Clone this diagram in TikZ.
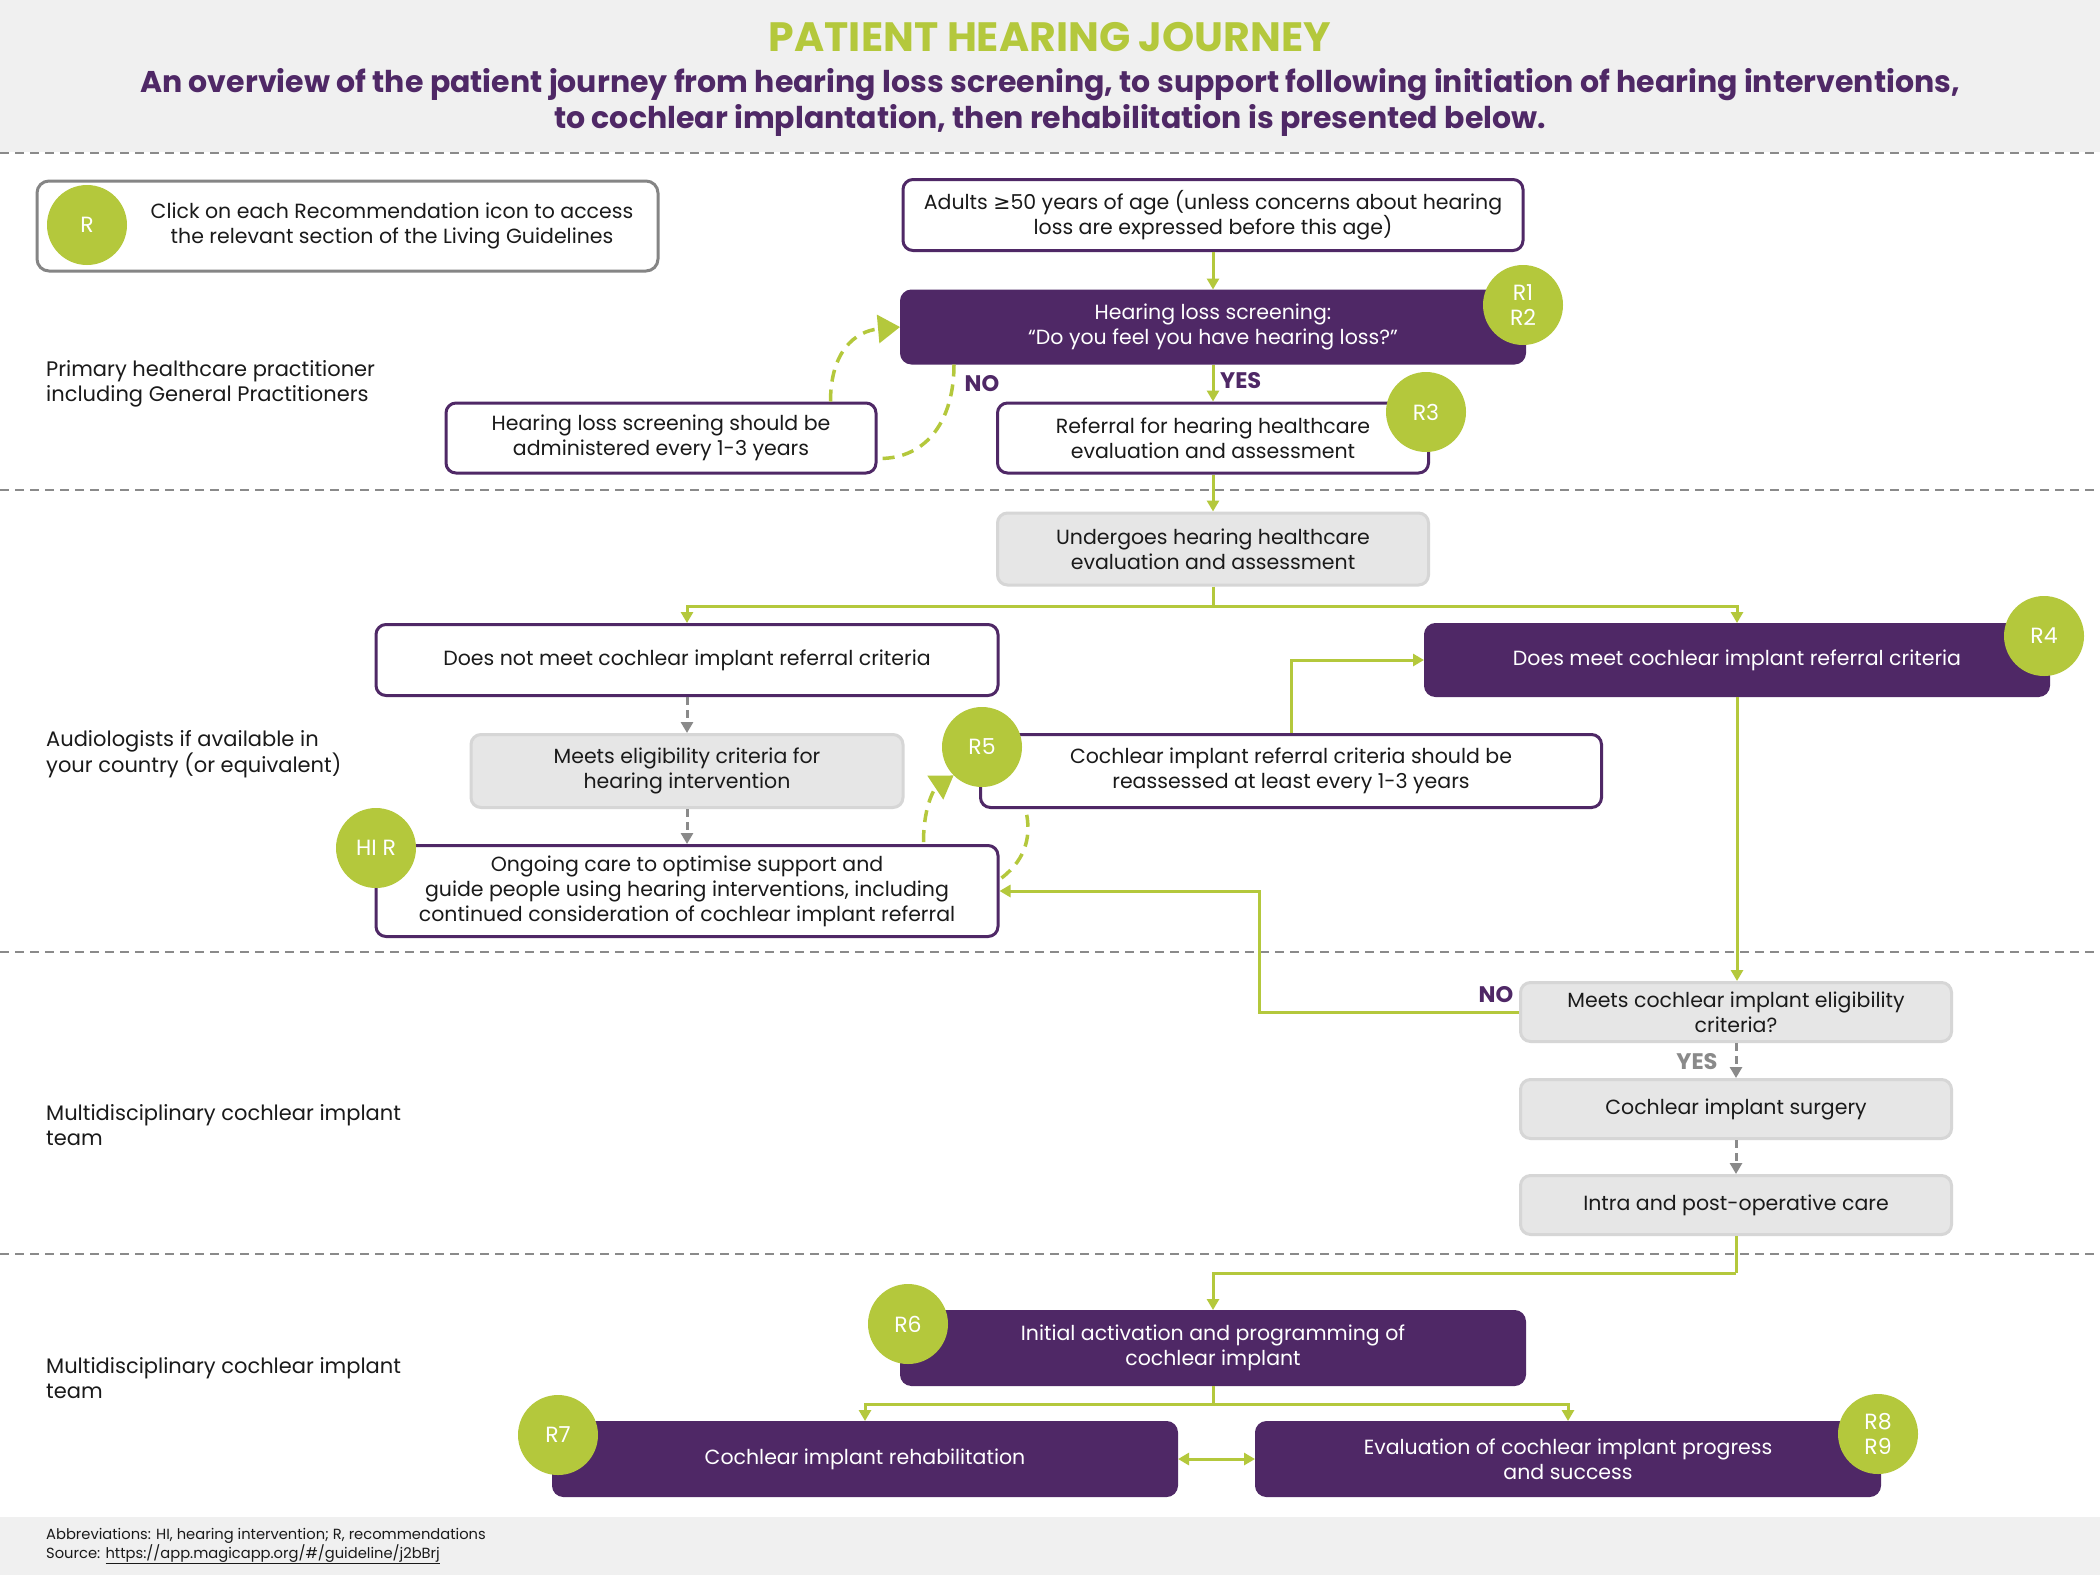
\documentclass[tikz,border=0pt]{standalone}
\usepackage{fontspec}
\setmainfont{Poppins}
\newfontfamily\symfont{DejaVu Sans}
\usetikzlibrary{arrows.meta,calc}
\definecolor{hpurple}{HTML}{4F2866}
\definecolor{hgreen}{HTML}{B4C83C}
\definecolor{hgrayfill}{HTML}{E6E6E6}
\definecolor{hgrayline}{HTML}{D6D6D6}
\definecolor{hband}{HTML}{F0F0F0}
\definecolor{hdash}{HTML}{8A8A8A}
\definecolor{hlegend}{HTML}{858585}
\definecolor{htext}{HTML}{1A1A1A}
\begin{document}
\begin{tikzpicture}[x=1pt,y=-1pt,
  base/.style={rounded corners=10pt, line width=3pt, align=center, inner sep=0pt, font=\fontsize{20.5}{25}\selectfont},
  wbox/.style={base, draw=hpurple, fill=white, text=htext},
  pbox/.style={base, draw=hpurple, fill=hpurple, text=white},
  gbox/.style={base, draw=hgrayline, fill=hgrayfill, text=htext},
  rcirc/.style={circle, fill=hgreen, minimum size=80pt, inner sep=0pt, text=white, align=center, font=\fontsize{22}{25.5}\selectfont},
  lane/.style={anchor=west, align=left, inner sep=0pt, text=htext, font=\fontsize{21}{25}\selectfont},
  gline/.style={draw=hgreen, line width=3pt},
  garrow/.style={gline, -{Triangle[length=11pt,width=12pt]}},
  gdarrow/.style={gline, {Triangle[length=11pt,width=12pt]}-{Triangle[length=11pt,width=12pt]}},
  grayarrow/.style={draw=hdash, line width=3pt, dash pattern=on 8pt off 5pt, -{Triangle[length=11pt,width=12pt]}},
  loopline/.style={draw=hgreen, line width=3.5pt, dash pattern=on 12pt off 8pt},
  looparrow/.style={loopline, -{Triangle[length=22pt,width=28pt]}},
  sep/.style={draw=hdash, line width=2pt, dash pattern=on 9pt off 6pt},
  yn/.style={inner sep=0pt, font=\bfseries\fontsize{22.5}{26}\selectfont}
]
\useasboundingbox (0,0) rectangle (2100,1575);
\fill[white] (0,0) rectangle (2100,1575);
% header and footer bands
\fill[hband] (0,0) rectangle (2100,152);
\fill[hband] (0,1517) rectangle (2100,1575);
\node[inner sep=0pt, text=hgreen, font=\bfseries\fontsize{41}{44}\selectfont] (title) at (1050,37) {PATIENT HEARING JOURNEY};
\node[inner sep=0pt, align=center, text=hpurple, font=\bfseries\fontsize{30}{36}\selectfont] (subtitle) at (1050,102)
  {An overview of the patient journey from hearing loss screening, to support following initiation of hearing interventions,\\
   to cochlear implantation, then rehabilitation is presented below.};
% separators
\coordinate (s1l) at (0,153); \coordinate (s1r) at (2100,153);
\coordinate (s2l) at (0,490); \coordinate (s2r) at (2100,490);
\coordinate (s3l) at (0,952); \coordinate (s3r) at (2100,952);
\coordinate (s4l) at (0,1254); \coordinate (s4r) at (2100,1254);
\draw[sep] (s1l) -- (s1r);
\draw[sep] (s2l) -- (s2r);
\draw[sep] (s3l) -- (s3r);
\draw[sep] (s4l) -- (s4r);
% lane labels
\node[lane] (lane1) at (46,384) {Primary healthcare practitioner\\including General Practitioners};
\node[lane] (lane2) at (46,754) {Audiologists if available in\\your country (or equivalent)};
\node[lane] (lane3) at (46,1125) {Multidisciplinary cochlear implant\\team};
\node[lane] (lane4) at (46,1378) {Multidisciplinary cochlear implant\\team};
% legend
\node[draw=hlegend, line width=3pt, rounded corners=12pt, minimum width=621pt, minimum height=90pt, inner sep=0pt] (legend) at (347.5,226) {};
\node[rcirc] (rleg) at (87,225) {R};
\node[inner sep=0pt, align=center, text=htext, font=\fontsize{20.5}{25}\selectfont] (legtext) at (392,226)
  {Click on each Recommendation icon to access\\the relevant section of the Living Guidelines};
% boxes
\node[wbox, minimum width=620pt, minimum height=71pt] (adults) at (1213,215) {Adults {\symfont ≥}50 years of age (unless concerns about hearing\\loss are expressed before this age)};
\node[pbox, minimum width=623pt, minimum height=72pt] (screening) at (1213,327) {Hearing loss screening:\\“Do you feel you have hearing loss?”};
\node[wbox, minimum width=430pt, minimum height=70pt] (every) at (661,438) {Hearing loss screening should be\\administered every 1-3 years};
\node[wbox, minimum width=431pt, minimum height=70pt] (referral) at (1213,438) {Referral for hearing healthcare\\evaluation and assessment};
\node[gbox, minimum width=431pt, minimum height=72pt] (undergoes) at (1213,549) {Undergoes hearing healthcare\\evaluation and assessment};
\node[wbox, minimum width=622pt, minimum height=71pt] (notmeet) at (687,660) {Does not meet cochlear implant referral criteria};
\node[pbox, minimum width=623pt, minimum height=71pt] (meet) at (1737,660) {Does meet cochlear implant referral criteria};
\node[gbox, minimum width=432pt, minimum height=73pt] (elig) at (687,771) {Meets eligibility criteria for\\hearing intervention};
\node[wbox, minimum width=621pt, minimum height=73pt] (reassess) at (1291,771) {Cochlear implant referral criteria should be\\reassessed at least every 1-3 years};
\node[wbox, minimum width=622pt, minimum height=91pt] (ongoing) at (687,891) {Ongoing care to optimise support and\\guide people using hearing interventions, including\\continued consideration of cochlear implant referral};
\node[gbox, minimum width=431pt, minimum height=59pt] (cielig) at (1736,1012) {Meets cochlear implant eligibility\\criteria?};
\node[gbox, minimum width=431pt, minimum height=59pt] (surgery) at (1736,1109) {Cochlear implant surgery};
\node[gbox, minimum width=431pt, minimum height=59pt] (postop) at (1736,1205) {Intra and post-operative care};
\node[pbox, minimum width=623pt, minimum height=73pt] (activation) at (1213,1348) {Initial activation and programming of\\cochlear implant};
\node[pbox, minimum width=623pt, minimum height=73pt] (rehab) at (865,1459) {Cochlear implant rehabilitation};
\node[pbox, minimum width=623pt, minimum height=73pt] (eval) at (1568,1459) {Evaluation of cochlear implant progress\\and success};
% connectors
\draw[garrow] (adults.south) -- (screening.north);
\draw[garrow] (screening.south) -- (referral.north);
\node[yn, text=hpurple, anchor=west] (yes1) at (1220,381) {YES};
\node[yn, text=hpurple] (no1) at (982,384) {NO};
\draw[garrow] (referral.south) -- (undergoes.north);
\draw[gline] (undergoes.south) -- ++(0,20) coordinate (split1);
\draw[garrow] (split1) -| (notmeet.north);
\draw[garrow] (split1) -| (meet.north);
\draw[grayarrow] (notmeet.south) -- (elig.north);
\draw[grayarrow] (elig.south) -- (ongoing.north);
\draw[garrow] (reassess.north) |- (meet.west);
\coordinate (meetend) at (meet.south |- cielig.north);
\draw[garrow] (meet.south) -- (meetend);
\coordinate (noturn) at (1259,950);
\draw[garrow] (cielig.west) -- (cielig.west -| noturn) |- (ongoing.east);
\node[yn, text=hpurple] (no2) at (1496,995) {NO};
\draw[grayarrow] (cielig.south) -- (surgery.north);
\node[yn, text=hdash] (yes2) at (1697,1062) {YES};
\draw[grayarrow] (surgery.south) -- (postop.north);
\draw[gline] (postop.south) -- ++(0,37) coordinate (split2);
\draw[garrow] (split2) -| (activation.north);
\draw[gline] (activation.south) -- ++(0,18) coordinate (split3);
\draw[garrow] (split3) -| (rehab.north);
\draw[garrow] (split3) -| (eval.north);
\draw[gdarrow] (rehab.east) -- (eval.west);
% recommendation circles
\node[rcirc] (r12) at (1523,305) {R1\\R2};
\node[rcirc] (r3) at (1426,412) {R3};
\node[rcirc] (r4) at (2044,636) {R4};
\node[rcirc] (r5) at (982,747) {R5};
\node[rcirc] (hir) at (376,848) {HI R};
\node[rcirc] (r6) at (908,1324) {R6};
\node[rcirc] (r7) at (558,1435) {R7};
\node[rcirc] (r89) at (1878,1434) {R8\\R9};
% dashed loops
\draw[loopline] ($(screening.south west)+(54,0)$) .. controls ($(screening.south west)+(54,55)$) and ($(every.south east)+(50,-16)$) .. ($(every.south east)+(2,-16)$);
\draw[looparrow] ($(every.north east)+(-47,0)$) .. controls ($(every.north east)+(-47,-50)$) and ($(screening.west)+(-45,4)$) .. (screening.west);
\draw[loopline] ($(ongoing.north east)+(2,34)$) .. controls ($(ongoing.north east)+(28,14)$) and ($(reassess.south west)+(52,25)$) .. ($(reassess.south west)+(47,2)$);
\draw[looparrow] ($(ongoing.north east)+(-76,-2)$) .. controls ($(ongoing.north east)+(-76,-40)$) and ($(r5.south west)+(-18,12)$) .. (r5.south west);
% footer
\node[anchor=west, align=left, inner sep=0pt, text=htext, font=\fontsize{14.7}{19}\selectfont] (footer) at (46,1546)
  {Abbreviations: HI, hearing intervention; R, recommendations\\Source: \underline{https://app.magicapp.org/\#/guideline/j2bBrj}};
\end{tikzpicture}
\end{document}
